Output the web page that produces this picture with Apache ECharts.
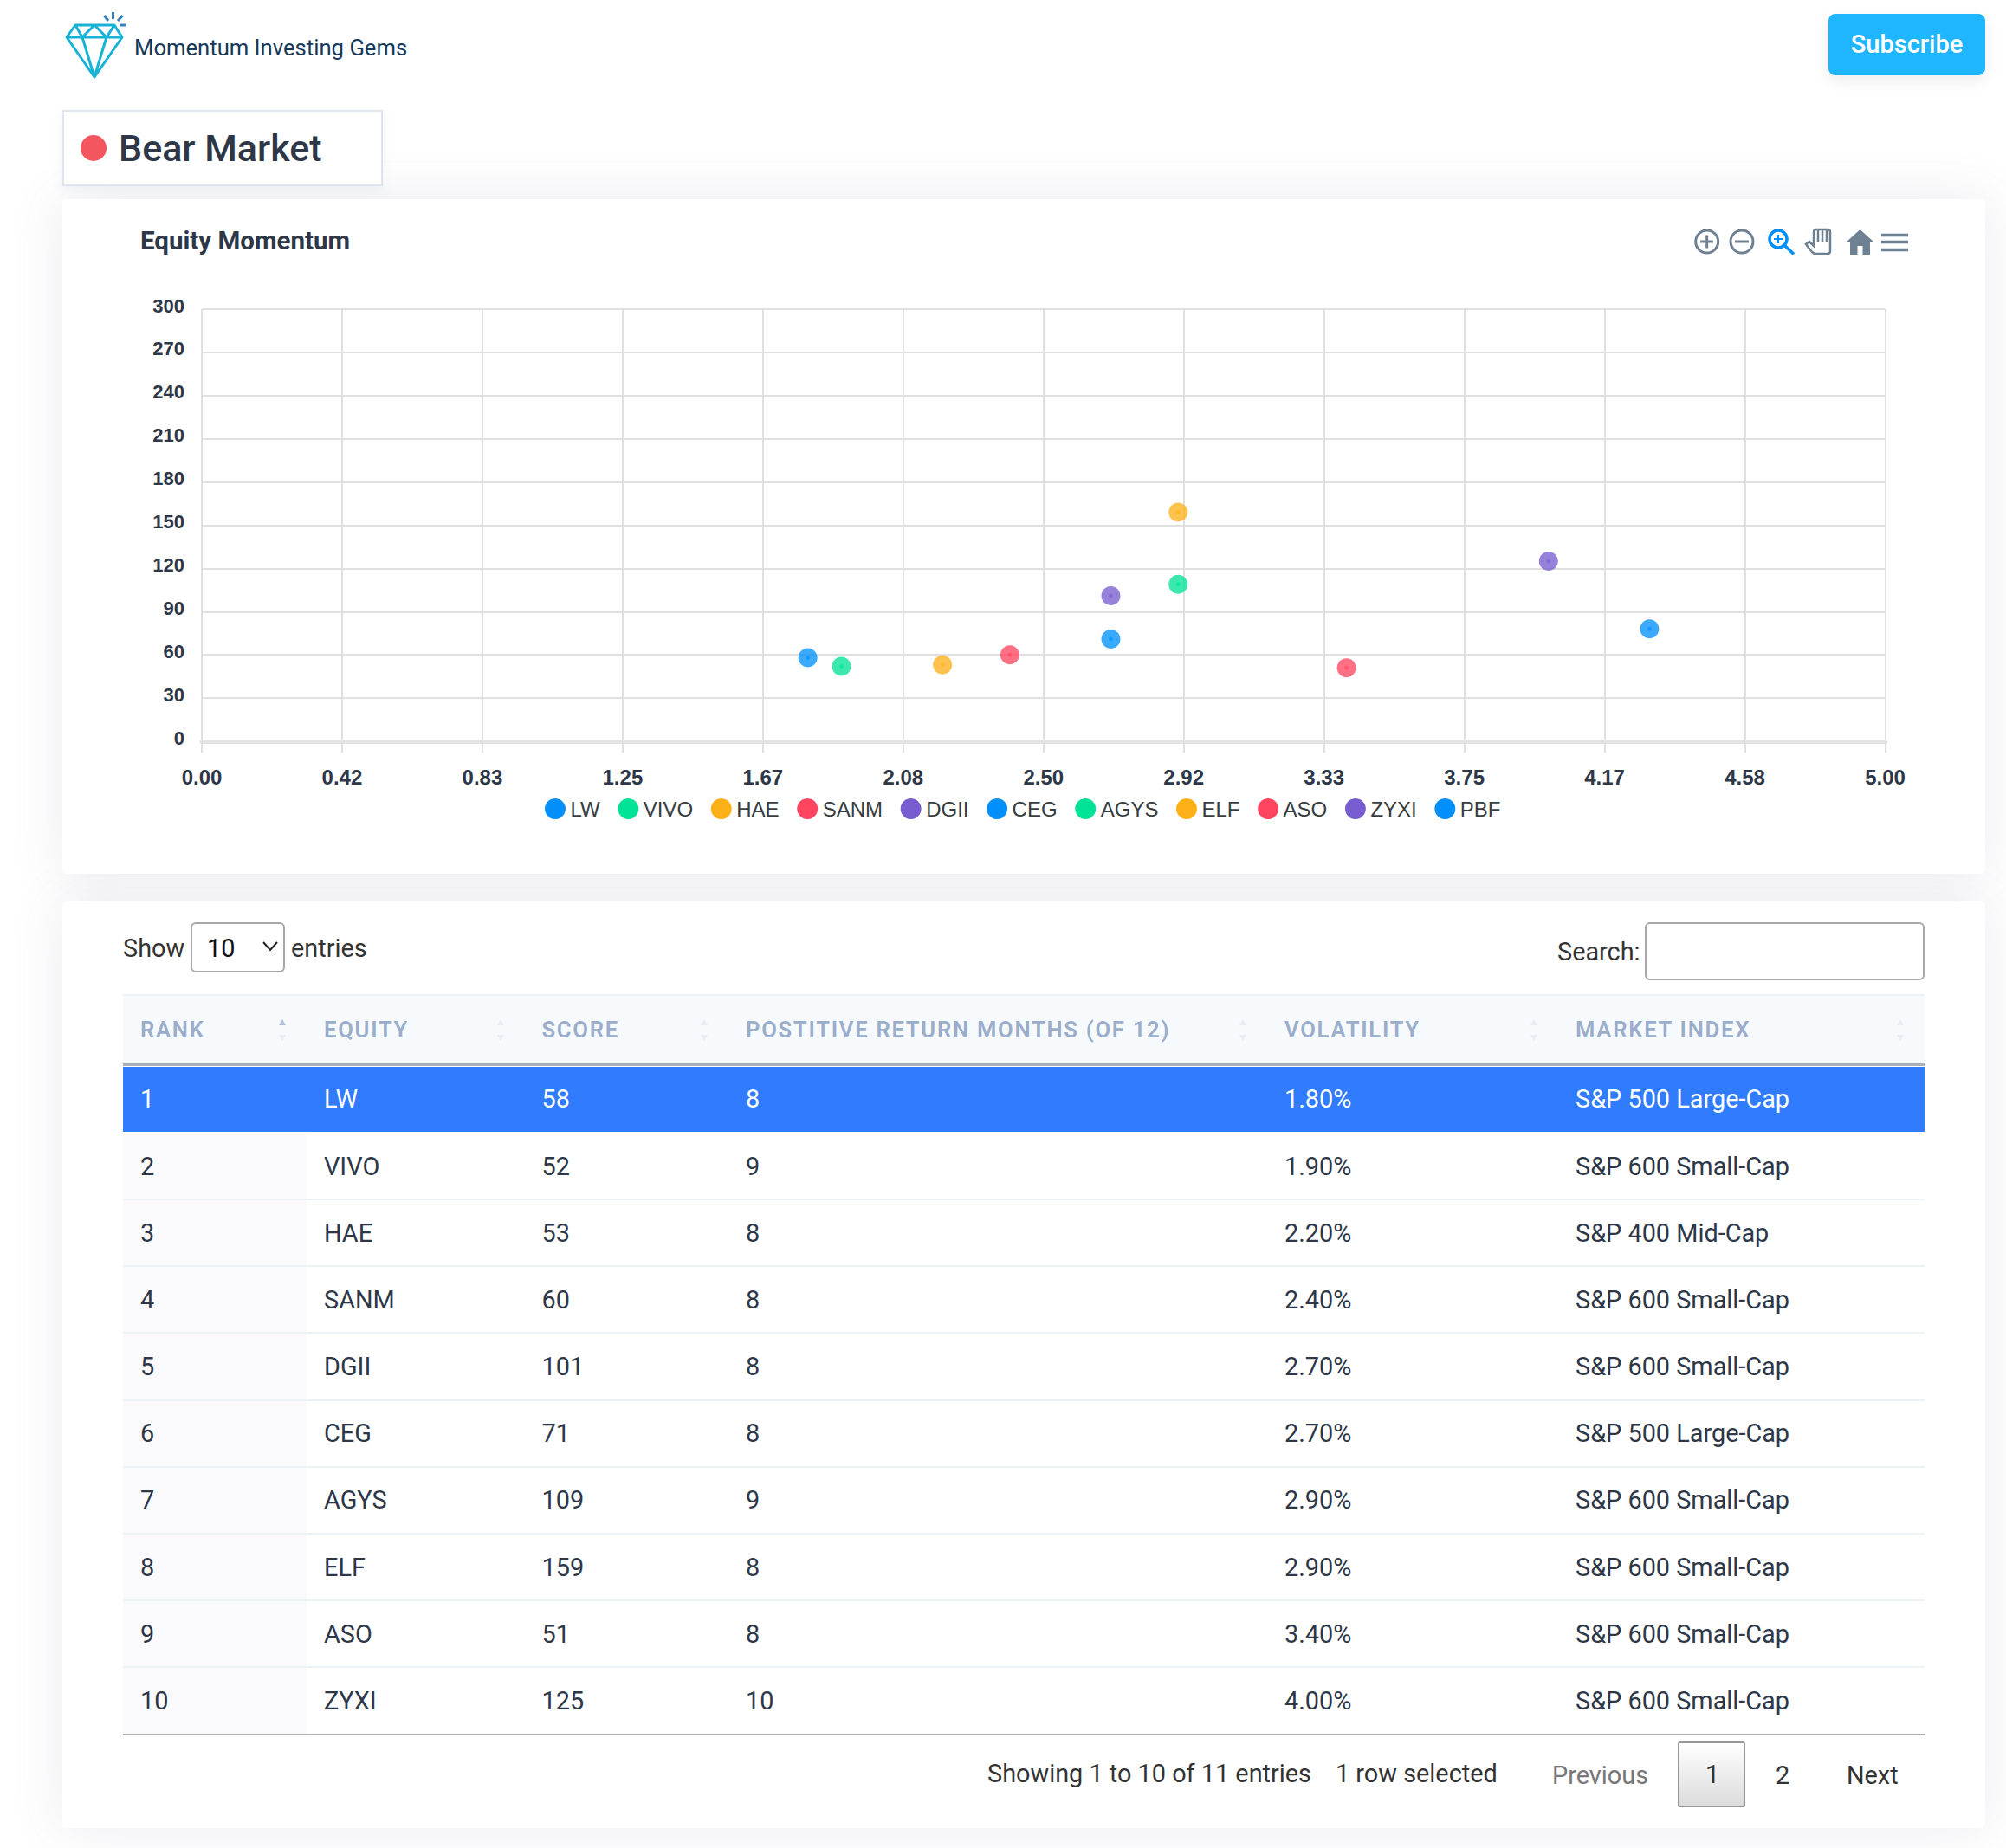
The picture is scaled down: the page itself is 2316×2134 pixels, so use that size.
<!DOCTYPE html>
<html><head><meta charset="utf-8">
<script src="https://cdn.jsdelivr.net/npm/echarts@6/dist/echarts.min.js"></script>
<style>
html,body{margin:0;padding:0;background:#fff;width:2316px;height:2134px;overflow:hidden;font-family:Roboto,sans-serif;color:#2d3748}
.a{position:absolute;white-space:nowrap;line-height:1}
.card{position:absolute;background:#fff;border-radius:6px}
.sh{position:absolute;border-radius:6px;box-shadow:0 0 60px rgba(100,100,140,.13)}
#tbl .cell{position:absolute;font-size:28.85px;line-height:1;white-space:nowrap;transform:translateY(-50%)}
#tbl .hd{position:absolute;font-size:25.6px;font-weight:600;letter-spacing:1.75px;color:#9aadcb;line-height:1;white-space:nowrap;transform:translateY(-50%)}
.rowbg{position:absolute;left:142px;width:2080px}
.up,.dn{position:absolute;width:0;height:0;border-left:4px solid transparent;border-right:4px solid transparent}
.up{border-bottom:7px solid #e8edf4;top:1177px}.dn{border-top:7px solid #e8edf4;top:1195px}
</style></head><body>
<div class="sh" style="left:72px;top:230px;width:2220px;height:779px"></div>
<div class="sh" style="left:72px;top:1041px;width:2220px;height:1070px"></div>
<div class="card" style="left:72px;top:230px;width:2220px;height:779px"></div>
<div class="card" style="left:72px;top:1041px;width:2220px;height:1070px"></div>

<svg class="a" style="left:70px;top:8px" width="90" height="90" viewBox="70 8 90 90" fill="none" stroke="#16b3d6" stroke-width="3" stroke-linejoin="round">
<path d="M87 29H132L141 43L109 89L77 43Z M77 43H141 M87 29L95 43L109 29L123 43L132 29 M95 43L109 89L123 43"/>
<path d="M130.5 14V22 M120.5 18L125 24 M141.5 18L136 24 M138 29H146" stroke="#3a7fb8"/>
</svg>
<div class="a" id="brand" style="left:155px;top:42.5px;font-size:25.65px;color:#15395a">Momentum Investing Gems</div>
<div class="a" id="subbtn" style="left:2111px;top:16px;width:181px;height:71px;background:#1fb6ff;border-radius:8px;color:#fff;font-size:29px;font-weight:500;text-align:center;line-height:71px;box-shadow:0 6px 18px rgba(0,0,0,.08)">Subscribe</div>
<div class="a" style="left:72px;top:127px;width:366px;height:84px;border:2px solid #dde6f0;background:#fff;box-shadow:0 5px 12px rgba(90,110,140,.08)"></div>
<div class="a" style="left:93px;top:156px;width:30px;height:30px;border-radius:50%;background:#f4565f"></div>
<div class="a" id="bear" style="left:137px;top:147.5px;font-size:43px;font-weight:500;line-height:46px">Bear Market</div>

<div id="chart" style="position:absolute;left:72px;top:230px;width:2220px;height:779px"></div>

<svg class="a" style="left:1950px;top:255px" width="270" height="50" viewBox="1950 255 270 50" fill="none" stroke="#6e8192" stroke-width="3">
<circle cx="1970.7" cy="279" r="13"/><path d="M1963 279H1978 M1970.7 271.5V286.5"/>
<circle cx="2011" cy="279" r="13"/><path d="M2003 279H2019"/>
<g stroke="#008ffb" stroke-width="3.5"><circle cx="2053" cy="276" r="10"/><path d="M2060 283L2071 293.5"/></g><path d="M2048 276H2058 M2053 271V281" stroke="#008ffb" stroke-width="2"/>
<path d="M2085 282L2089 279L2094 284V268Q2094 265 2097 265H2110Q2113 265 2113 268V290Q2113 293 2110 293H2096Q2094 293 2092 291Z M2099 265V279 M2104 265V279 M2109 265V279" stroke-width="2.5"/>
<path d="M2131 280L2147.5 265L2164 280H2159V294H2150.5V284H2144.5V294H2136V280Z" fill="#6e8192" stroke="none"/>
<path d="M2172 271.5H2203 M2172 279.5H2203 M2172 288.5H2203" stroke-width="3.5"/>
</svg>

<div id="tbl"></div>
<script>
const tickers=["LW","VIVO","HAE","SANM","DGII","CEG","AGYS","ELF","ASO","ZYXI","PBF"];
const volatility=[1.8,1.9,2.2,2.4,2.7,2.7,2.9,2.9,3.4,4.0,4.3];
const scores=[58,52,53,60,101,71,109,159,51,125,78];
const positiveMonths=[8,9,8,8,8,8,9,8,8,10];
const marketIndex=["S&P 500 Large-Cap","S&P 600 Small-Cap","S&P 400 Mid-Cap","S&P 600 Small-Cap","S&P 600 Small-Cap","S&P 500 Large-Cap","S&P 600 Small-Cap","S&P 600 Small-Cap","S&P 600 Small-Cap","S&P 600 Small-Cap"];
const headers=["RANK","EQUITY","SCORE","POSTITIVE RETURN MONTHS (OF 12)","VOLATILITY","MARKET INDEX"];
const palette=["#008FFB","#00E396","#FEB019","#FF4560","#775DD0"];
const chart=echarts.init(document.getElementById('chart'),null,{renderer:'svg'});
const axisFont={fontFamily:'"Liberation Sans",sans-serif',fontWeight:700,color:'#2d3748'};
const colorOf=i=>palette[i%palette.length];
chart.setOption({
 animation:false,
 color:palette,
 title:{text:'Equity Momentum',left:90,top:33,padding:0,textStyle:{fontFamily:'Roboto,sans-serif',fontWeight:700,fontSize:29.5,color:'#2d3748'}},
 legend:{show:true,data:tickers,left:557,top:692,padding:0,itemWidth:25,itemHeight:24,itemGap:20.6,icon:'circle',itemStyle:{opacity:1},
  textStyle:{fontFamily:'"Liberation Sans",sans-serif',fontSize:24,color:'#373d3f'}},
 grid:{left:161,top:127,width:1943.5,height:499,containLabel:false},
 xAxis:{type:'value',min:0,max:5,interval:5/12,
  axisLine:{show:true,onZero:false,lineStyle:{color:'#e3e3e3',width:5}},
  axisTick:{show:true,length:13,lineStyle:{color:'#e0e0e0',width:2}},
  splitLine:{show:true,lineStyle:{color:'#e0e0e0',width:2}},
  axisLabel:{...axisFont,fontSize:24,margin:29,showMinLabel:true,showMaxLabel:true,hideOverlap:false,formatter:v=>v.toFixed(2)}},
 yAxis:{type:'value',min:0,max:300,interval:30,
  axisLine:{show:false},axisTick:{show:false},
  splitLine:{show:true,lineStyle:{color:'#e0e0e0',width:2}},
  axisLabel:{...axisFont,fontSize:22,margin:20,verticalAlign:'bottom',lineHeight:8,showMinLabel:true,showMaxLabel:true}},
 series:[
  ...tickers.map((t,i)=>({name:t,type:'scatter',symbolSize:22,
   itemStyle:{color:colorOf(i),opacity:.77},data:[[volatility[i],scores[i]]]})),
  ...tickers.map((t,i)=>({name:t,type:'scatter',symbolSize:5,silent:true,
   itemStyle:{color:colorOf(i),opacity:.6},data:[[volatility[i],scores[i]]]}))
 ]
});
const colX=[162,374,625.5,861,1483,1819];
const colB=[354,606,841,1463,1799,2222];
const t=document.getElementById('tbl');
function el(cls,st,txt){const d=document.createElement('div');d.className=cls;d.style.cssText=st;if(txt!==undefined)d.textContent=txt;t.appendChild(d);return d;}
el('rowbg','top:1148px;height:80px;background:#f7fafc;border-top:2px solid #edf2f7;box-sizing:border-box');
el('rowbg','top:1228px;height:3px;background:#a9b0b8');
headers.forEach((h,i)=>{
 el('hd',`left:${colX[i]}px;top:1190px`,h);
 el('up',`left:${colB[i]-32}px;${i==0?'border-bottom-color:#b4c2d6':''}`);
 el('dn',`left:${colB[i]-32}px`);
});
const rowH=77.1,rowTop=1232;
tickers.slice(0,10).forEach((tk,r)=>{
 const y=rowTop+r*rowH, sel=r==0, c=sel?'#fff':'#2d3748';
 if(sel) el('rowbg',`top:${y}px;height:75px;background:#317bff`);
 else{
  el('rowbg',`top:${y}px;height:${rowH}px;left:142px;width:212px;background:#fafafc`);
  if(r<9) el('rowbg',`top:${y+rowH-2}px;height:2px;background:#edf2f7`);
 }
 const cy=(sel?1269:y+rowH/2-0.7);
 [r+1,tk,scores[r],positiveMonths[r],volatility[r].toFixed(2)+'%',marketIndex[r]].forEach((v,i)=>{
  el('cell',`left:${colX[i]}px;top:${cy}px;color:${c}`,String(v));
 });
});
el('rowbg','top:2002px;height:2px;background:#adadad');
const T='#333';
el('cell',`left:142px;top:1095px;color:${T}`,'Show');
el('cell',`left:336px;top:1095px;color:${T}`,'entries');
el('cell',`left:1140px;top:2048px;color:${T}`,'Showing 1 to 10 of 11 entries');
el('cell',`left:1542px;top:2048px;color:${T}`,'1 row selected');
el('cell',`left:1792px;top:2050px;color:#777`,'Previous');
el('cell',`left:2132px;top:2050px;color:${T}`,'Next');
el('cell',`left:2050px;top:2050px;color:${T}`,'2');
el('cell',`left:1798px;top:1099px;color:${T}`,'Search:');
el('a','left:220px;top:1065px;width:105px;height:54px;border:2px solid #a8a8a8;border-radius:6px;background:#fff');
el('cell',`left:239px;top:1095px;color:#111`,'10');
el('a','left:1899px;top:1065px;width:319px;height:63px;border:2px solid #a8a8a8;border-radius:6px;background:#fff');
el('a','left:1937px;top:2011px;width:74px;height:72px;border:2px solid #979797;border-radius:3px;background:linear-gradient(#fff,#dcdcdc)');
el('cell',`left:1969px;top:2049px;color:${T}`,'1');
const s=document.createElementNS('http://www.w3.org/2000/svg','svg');
s.setAttribute('style','position:absolute;left:302px;top:1085px');s.setAttribute('width','20');s.setAttribute('height','16');
s.innerHTML='<path d="M2 3L10 12L18 3" fill="none" stroke="#222" stroke-width="2"/>';t.appendChild(s);
</script>
</body></html>
